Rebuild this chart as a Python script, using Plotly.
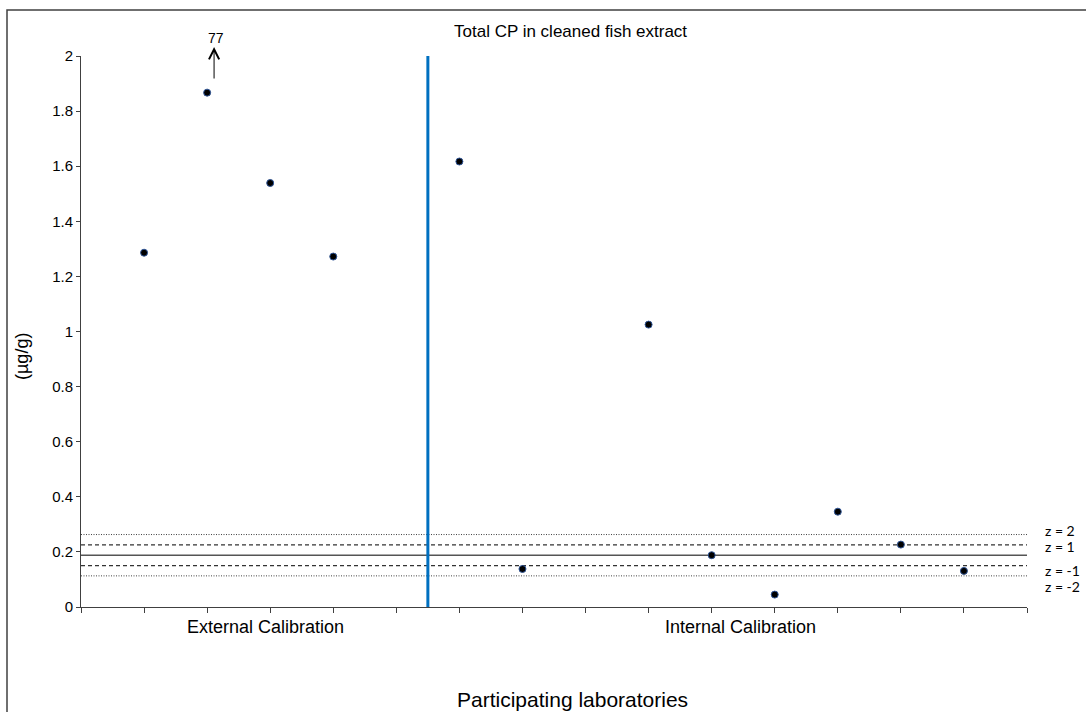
import plotly.graph_objects as go

# ---- data ----
lab_positions = [1, 2, 3, 4, 5, 6, 7, 8, 9, 10, 11, 12, 13, 14]
lab_values = [1.286, 1.867, 1.539, 1.272, None, 1.617, 0.138, None, 1.025, 0.188, 0.045, 0.346, 0.2265, 0.131]
assigned_value = 0.188
sigma = 0.0375
z_levels = [2, 1, -1, -2]
z_labels = ["z = 2", "z = 1", "z = -1", "z = -2"]
z_label_y = [0.277, 0.220, 0.134, 0.074]
group_labels = ["External Calibration", "Internal Calibration"]
group_label_x = [2.92, 10.46]
divider_x = 5.5
outlier_x = 2.11
outlier_text = "77"
x_max = 15
y_max = 2

FONT = "Liberation Sans, Arial, sans-serif"
ZFONT = "Lato, Carlito, Calibri, sans-serif"

# plot area in pixels (for placing texts outside the axes)
L, T, W, H = 81, 56, 946, 551


def px_x(px):
    return (px - L) / W


def px_y(py):
    return (T + H - py) / H


fig = go.Figure()

# reference lines
line_styles = {2: ("1px,1.5px", 1, "#444444"), 1: ("4px,3px", 1.3, "#333333"),
               -1: ("4px,3px", 1.3, "#333333"), -2: ("1px,1.5px", 1, "#444444")}
fig.add_trace(go.Scatter(x=[0, x_max], y=[assigned_value] * 2, mode="lines",
                         line=dict(color="#555555", width=1.6), hoverinfo="skip", showlegend=False))
for z in z_levels:
    dash, w, c = line_styles[z]
    fig.add_trace(go.Scatter(x=[0, x_max], y=[assigned_value + z * sigma] * 2, mode="lines",
                             line=dict(color=c, width=w, dash=dash), hoverinfo="skip", showlegend=False))

# divider
fig.add_trace(go.Scatter(x=[divider_x, divider_x], y=[0, y_max], mode="lines",
                         line=dict(color="#0070C0", width=3), hoverinfo="skip", showlegend=False))

# lab results
fig.add_trace(go.Scatter(x=lab_positions, y=lab_values, mode="markers",
                         marker=dict(color="black", size=7, line=dict(color="#2f5597", width=1)),
                         showlegend=False))

annotations = []
for lab, yv in zip(z_labels, z_label_y):
    annotations.append(dict(x=px_x(1043), y=yv / y_max, xref="paper", yref="paper", text=lab,
                            showarrow=False, xanchor="left", yanchor="middle",
                            font=dict(family=ZFONT, size=14, color="#000000")))
for lab, xv in zip(group_labels, group_label_x):
    annotations.append(dict(x=xv / x_max, y=px_y(627), xref="paper", yref="paper", text=lab,
                            showarrow=False, xanchor="center", yanchor="middle",
                            font=dict(family=FONT, size=18, color="#000000")))
# outlier arrow
annotations.append(dict(x=outlier_x / x_max, y=px_y(47), xref="paper", yref="paper",
                        ax=0, ay=33, text="", showarrow=True, arrowhead=5,
                        arrowsize=2, arrowwidth=1, arrowcolor="black"))
annotations.append(dict(x=(outlier_x + 0.03) / x_max, y=px_y(38), xref="paper", yref="paper",
                        text=outlier_text, showarrow=False, xanchor="center", yanchor="middle",
                        font=dict(family=FONT, size=14, color="#000000")))
# title
annotations.append(dict(x=px_x(570), y=px_y(32), xref="paper", yref="paper",
                        text="Total CP in cleaned fish extract", showarrow=False,
                        xanchor="center", yanchor="middle",
                        font=dict(family=FONT, size=17, color="#000000")))
# axis titles
annotations.append(dict(x=px_x(22), y=px_y(357), xref="paper", yref="paper",
                        text="(µg/g)", textangle=-90, showarrow=False,
                        xanchor="center", yanchor="middle",
                        font=dict(family=FONT, size=18, color="#000000")))
annotations.append(dict(x=px_x(572), y=px_y(699), xref="paper", yref="paper",
                        text="Participating laboratories", showarrow=False,
                        xanchor="center", yanchor="middle",
                        font=dict(family=FONT, size=21, color="#000000")))

shapes = [dict(type="rect", xref="paper", yref="paper",
               x0=px_x(7), x1=px_x(1100), y0=px_y(730), y1=px_y(10),
               line=dict(color="#404040", width=1.5), fillcolor="rgba(0,0,0,0)", layer="below")]

fig.update_layout(
    width=1086, height=712,
    margin=dict(l=L, r=1086 - L - W, t=T, b=712 - T - H),
    plot_bgcolor="white", paper_bgcolor="white",
    showlegend=False,
    annotations=annotations,
    shapes=shapes,
    xaxis=dict(range=[0, x_max], tickmode="linear", tick0=0, dtick=1, showticklabels=False,
               ticks="outside", ticklen=5, tickcolor="#404040", showgrid=False, zeroline=False,
               showline=True, linecolor="#404040", linewidth=1),
    yaxis=dict(range=[0, y_max], tickmode="linear", tick0=0, dtick=0.2,
               ticks="outside", ticklen=4, tickcolor="#404040", showgrid=False, zeroline=False,
               showline=True, linecolor="#404040", linewidth=1,
               tickfont=dict(family=FONT, size=15, color="#000000")),
)

fig.write_html("out.html", config={"displayModeBar": False},
               post_script="document.body.style.margin='0';document.body.style.overflow='hidden';")
